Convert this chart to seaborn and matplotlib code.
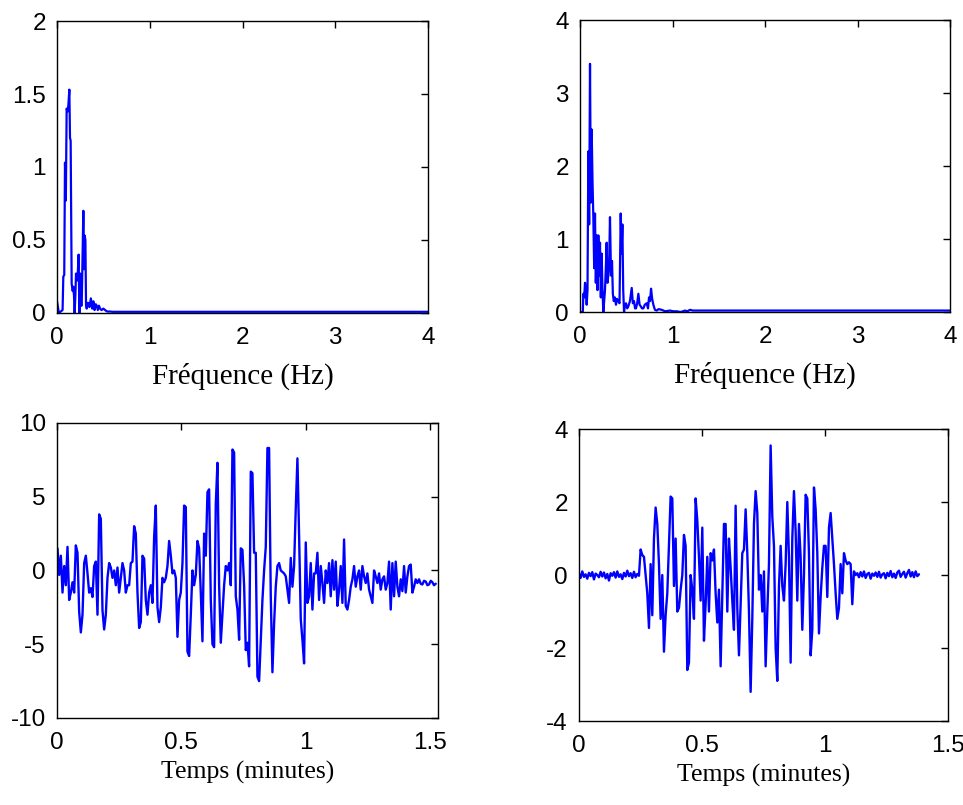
import numpy as np
import matplotlib
matplotlib.use("Agg")
import matplotlib.pyplot as plt
import seaborn as sns

# -----------------------------
# DATA
# -----------------------------
# spectrum, signal 1 (Hz, amplitude)
freq_a = [0.000, 0.005, 0.020, 0.040, 0.060, 0.068, 0.078, 0.086, 0.095, 0.104,
          0.113, 0.122, 0.133, 0.140, 0.147, 0.158, 0.169, 0.176, 0.183, 0.190,
          0.198, 0.205, 0.212, 0.222, 0.233, 0.241, 0.250, 0.259, 0.266, 0.273,
          0.284, 0.291, 0.298, 0.306, 0.313, 0.320, 0.335, 0.350, 0.365, 0.380,
          0.392, 0.405, 0.418, 0.428, 0.440, 0.452, 0.464, 0.480, 0.500, 0.518,
          0.540, 0.572, 0.600, 4.000]
amp_a = [0.08, 0.06, 0.00, 0.01, 0.02, 0.25, 0.26, 1.03, 0.77, 1.40,
         1.38, 1.42, 1.53, 1.20, 1.18, 0.20, 0.15, 0.18, 0.12, 0.00,
         0.12, 0.27, 0.22, 0.25, 0.40, 0.00, 0.27, 0.05, 0.05, 0.30,
         0.70, 0.30, 0.53, 0.50, 0.05, 0.03, 0.07, 0.04, 0.10, 0.03,
         0.08, 0.02, 0.06, 0.05, 0.02, 0.05, 0.03, 0.02, 0.03, 0.02,
         0.01, 0.01, 0.008, 0.008]

# spectrum, signal 2
freq_b = [0.000, 0.030, 0.036, 0.045, 0.054, 0.063, 0.072, 0.081, 0.090, 0.099,
          0.108, 0.117, 0.126, 0.135, 0.144, 0.153, 0.162, 0.171, 0.180, 0.189,
          0.198, 0.207, 0.216, 0.225, 0.234, 0.243, 0.252, 0.261, 0.270, 0.279,
          0.288, 0.297, 0.306, 0.315, 0.324, 0.335, 0.346, 0.355, 0.365, 0.377,
          0.389, 0.400, 0.414, 0.427, 0.440, 0.449, 0.458, 0.467, 0.476, 0.486,
          0.497, 0.510, 0.523, 0.540, 0.559, 0.571, 0.584, 0.595, 0.605, 0.618,
          0.631, 0.644, 0.656, 0.670, 0.685, 0.700, 0.721, 0.735, 0.746, 0.757,
          0.768, 0.780, 0.793, 0.810, 0.829, 0.850, 0.883, 0.920, 0.973, 1.010,
          1.045, 1.090, 1.135, 1.160, 1.190, 1.220, 4.000]
amp_b = [0.00, 0.00, 0.25, 0.20, 0.40, 0.30, 0.10, 0.30, 2.20, 1.20,
         3.40, 1.50, 2.50, 1.80, 1.30, 0.60, 1.35, 0.40, 1.05, 0.30,
         1.05, 0.50, 0.95, 0.20, 0.80, 0.30, 0.00, 0.15, 0.30, 0.60,
         0.95, 0.40, 0.50, 0.65, 1.30, 0.50, 0.70, 0.25, 0.15, 0.20,
         0.10, 0.18, 0.15, 0.12, 1.35, 0.80, 1.20, 0.30, 0.00, 0.10,
         0.12, 0.05, 0.08, 0.15, 0.33, 0.12, 0.15, 0.05, 0.05, 0.12,
         0.25, 0.10, 0.08, 0.05, 0.05, 0.10, 0.12, 0.05, 0.20, 0.15,
         0.32, 0.18, 0.10, 0.03, 0.02, 0.04, 0.03, 0.01, 0.02, 0.01,
         0.01, 0.00, 0.02, 0.01, 0.03, 0.02, 0.02]

# time signal 1, sampled every 0.0067 min starting at 0.002 min
sig_a = [1.5, -0.3, 1.0, -1.5, 0.3, -1.0, 1.6, -2.0, -1.5, -0.8,
         -1.5, 1.7, 1.2, -2.8, -4.2, -3.0, 0.5, 1.0, -0.2, -1.5,
         -1.2, -1.8, 0.3, 0.6, -3.0, 3.8, 3.5, -2.7, -4.0, -3.0,
         -0.5, 0.5, 0.2, -0.5, 0.0, -1.0, 0.2, -1.5, -0.5, 0.5,
         0.0, -1.5, -1.0, -1.0, 0.5, 0.6, 3.0, 2.5, -1.5, -3.9,
         -3.5, 1.0, 0.8, -2.0, -3.0, -1.5, -1.0, -2.2, 2.3, 4.4,
         -2.5, -3.5, -2.5, -0.5, -0.8, -0.5, 0.3, 2.0, 1.0, -0.2,
         0.0, -0.5, -4.5, -2.0, -1.5, 0.5, 4.4, 4.3, -5.5, -5.8,
         -3.0, 0.0, -1.0, -0.3, 2.0, 1.5, -1.5, -4.8, 2.5, 1.0,
         5.3, 5.5, -2.0, -5.0, -5.2, 4.5, 7.3, -1.0, -4.9, -3.0,
         -1.0, 0.3, 0.0, 0.5, -1.0, 8.2, 8.0, -1.75, -2.65, -4.7,
         1.5, 1.4, -1.0, -5.4, -4.9,
         -6.5, 6.7, 6.6, 1.2, 1.2, -7.2, -7.5, -4.7, -2.0, 0.0,
         1.6, 8.3, 8.3, -1.75, -6.9, -3.6, -1.1, 0.3, 0.5, 0.0,
         -0.1, -0.2, -0.4, -1.3, -2.2, 0.85, -1.1, 0.3, 4.2, 7.6,
         2.4, -3.3, -4.7, -6.3, 1.9, -2.2, -1.75, 0.5, -2.65, -0.2,
         -0.2, 1.2, -2.0, 0.3, -0.85, -2.2, 0.0, -0.85, 0.5, -1.75,
         0.7, -1.3, 0.6, -2.4, -1.3, 0.3, -2.2, 2.1, -2.4, -2.65,
         -2.0, -1.1, -0.6, 0.3, -1.1, -0.4, 0.0, -1.3, 0.3, -0.4,
         -0.85, -0.2, -1.3, -1.75, -2.2, 0.0, -0.4, -0.85, -0.2, -1.3,
         -0.6, -0.4, -1.3, -0.85, 0.6, -2.65, 0.5, -1.75, 0.6, -1.1,
         -1.75, -0.6, -1.4, 0.3, -1.5, -0.4, 0.3, 0.4, -1.5, -1.1,
         -0.6, -0.85, -0.6, -0.9, -0.95, -0.7, -0.75, -1.0, -0.95, -0.7,
         -0.8, -1.0, -0.9]

# time signal 2, sampled every 0.006775 min starting at 0
sig_b = [0.05, -0.08, 0.10, -0.05, 0.02, -0.10, 0.06, -0.03, 0.08, -0.12,
         0.04, 0.00, -0.06, 0.09, -0.04, 0.07, -0.09, 0.03, -0.15, 0.05,
         -0.02, 0.08, -0.07, 0.10, -0.05, 0.02, -0.11, 0.06, -0.04, 0.12,
         -0.03, 0.05, -0.08, 0.09, -0.06, 0.03, -0.02,
         0.7, 0.55, 0.5, 0.0, -0.5, -1.45, 0.3, -1.1, 1.0, 1.85,
         1.4, 0.3, -1.2, 0.0, -2.1, -1.1, -0.5, 0.8, 2.15, 2.1,
         -0.3, 1.0, -1.0, -0.9, -0.4, 0.0, 1.1, 0.8, -2.6, -2.4,
         0.0, -0.4, -1.2, 2.1, 1.5, 0.5, -0.7, 1.3, -1.8, -0.8,
         0.5, -1.0, 0.6, 0.4, 0.7, -0.5, -1.3, -0.4, -2.5, -0.6,
         1.4, 1.4, -1.0, 1.0, 0.2, -0.7, -1.5, 1.9, -0.9, -2.2,
         -0.8, 0.6, 0.7, 1.8, 0.6, -1.0, -3.2, -1.2, 1.4, 2.3,
         1.7, -0.4, 0.0, -1.0, 0.1, -2.5, -1.0, 0.3, 3.55, 1.6,
         0.8, -2.0, -2.9, -0.3, 0.8, -0.3, -0.7, 0.3, 2.0, 0.5,
         -2.4, 1.0, 2.3, 1.2, -0.7, 1.4, 0.5, -1.5, 0.0, 2.2,
         2.1, 0.6, -2.2, -1.5, 2.4, 1.8, 0.6, -1.6, -0.6, 0.2,
         0.8, 0.8, -0.6, 1.3, 1.7, 1.0, 0.3, -0.5, -1.2, -0.9,
         0.3, -0.5, 0.6, 0.4, 0.3, 0.35, 0.3, -0.8, 0.1, 0.0,
         0.05, -0.06, 0.08, -0.04, 0.10, -0.08, 0.03, 0.06, -0.10, 0.04,
         -0.02, 0.07, -0.05, 0.09, -0.07, 0.02, 0.05, -0.09, 0.06, -0.03,
         0.11, -0.06, 0.04, -0.08, 0.07, 0.12, -0.05, 0.03, 0.09, -0.07,
         0.05, 0.14, -0.04, 0.08, -0.06, 0.10, -0.03, 0.02]

dt_a, t0_a = 0.0067, 0.002
dt_b, t0_b = 0.006775, 0.0

# tick labels
freq_ticks = ["0", "1", "2", "3", "4"]
yticks_a = ["0", "0.5", "1", "1.5", "2"]
yticks_b = ["0", "1", "2", "3", "4"]
yticks_c = ["-10", "-5", "0", "5", "10"]
yticks_d = ["-4", "-2", "0", "2", "4"]
time_ticks = ["0", "0.5", "1", "1.5"]

# -----------------------------
# FIGURE
# -----------------------------
sns.set_theme(style="white")
plt.rcParams["font.family"] = ["Liberation Sans", "DejaVu Sans"]
plt.rcParams["axes.unicode_minus"] = False

blue = "#0000ff"
fig = plt.figure(figsize=(9.63, 8.05), dpi=100)
ax_tl = fig.add_axes([0.0592, 0.6112, 0.3853, 0.3627])
ax_tr = fig.add_axes([0.6023, 0.6124, 0.3842, 0.3627])
ax_bl = fig.add_axes([0.0592, 0.1081, 0.3956, 0.3665])
ax_br = fig.add_axes([0.6012, 0.1043, 0.3832, 0.3627])

t_a = t0_a + dt_a * np.arange(len(sig_a))
t_b = t0_b + dt_b * np.arange(len(sig_b))

sns.lineplot(x=freq_a, y=amp_a, ax=ax_tl, color=blue, linewidth=1.6,
             estimator=None, sort=False)
sns.lineplot(x=freq_b, y=amp_b, ax=ax_tr, color=blue, linewidth=1.6,
             estimator=None, sort=False)
sns.lineplot(x=t_a, y=sig_a, ax=ax_bl, color=blue, linewidth=1.7,
             estimator=None, sort=False)
sns.lineplot(x=t_b, y=sig_b, ax=ax_br, color=blue, linewidth=1.7,
             estimator=None, sort=False)

def style(ax, xlim, xlabels, ylim, ylabels, xlabel, xsize, xpad):
    ax.set_xlim(*xlim)
    ax.set_ylim(*ylim)
    ax.set_xticks([float(s) for s in xlabels], xlabels)
    ax.set_yticks([float(s) for s in ylabels], ylabels)
    ax.tick_params(direction="in", top=True, right=True, length=5, width=1,
                   labelsize=17.5, colors="black")
    ax.tick_params(axis="x", pad=10)
    ax.tick_params(axis="y", pad=8)
    for sp in ax.spines.values():
        sp.set_color("black")
        sp.set_linewidth(1.0)
    ax.set_xlabel(xlabel, family=["Liberation Serif", "DejaVu Serif"],
                  fontsize=xsize, labelpad=xpad, color="black")
    ax.set_ylabel("")

style(ax_tl, (0, 4), freq_ticks, (0, 2), yticks_a, "Fréquence (Hz)", 21, 10)
style(ax_tr, (0, 4), freq_ticks, (0, 4), yticks_b, "Fréquence (Hz)", 21, 10)
style(ax_bl, (0, 1.532), time_ticks, (-10, 10), yticks_c, "Temps (minutes)", 18.5, 5)
style(ax_br, (0, 1.5), time_ticks, (-4, 4), yticks_d, "Temps (minutes)", 18.5, 5)

fig.savefig("out.png", dpi=100, facecolor="white")
